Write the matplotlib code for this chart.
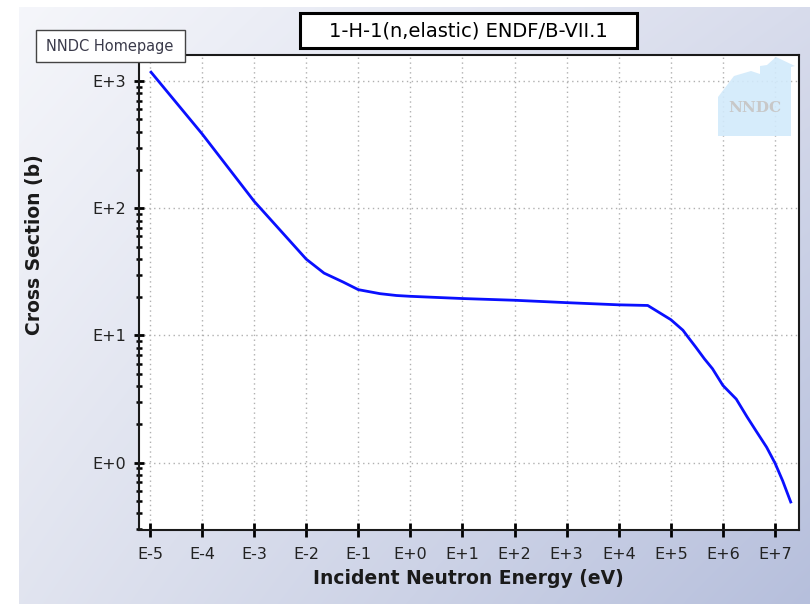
import numpy as np
import matplotlib
matplotlib.use('Agg')
import matplotlib.pyplot as plt
from matplotlib.ticker import LogLocator, FuncFormatter, NullFormatter
from matplotlib.patches import Rectangle, Polygon

# data (energy in eV, cross section in barns)
energy = [1.05e-5, 1e-4, 1e-3, 1e-2, 2.2e-2, 5.1e-2, 1e-1, 2.6e-1, 5.4e-1,
          1.0, 1e1, 1e2, 1e3, 1e4, 3.6e4, 1e5, 1.7e5, 2.1e5, 3.0e5, 4.4e5,
          6.3e5, 1e6, 1.8e6, 2.9e6, 4.3e6, 6.9e6, 1e7, 1.4e7, 2.0e7]
xs = [1175, 385, 113.5, 39.8, 30.9, 26.3, 22.9, 21.3, 20.6,
      20.3, 19.5, 18.9, 18.1, 17.4, 17.2, 13.3, 11.0, 9.8, 8.1, 6.55,
      5.47, 4.04, 3.16, 2.29, 1.78, 1.32, 0.99, 0.72, 0.49]

title = '1-H-1(n,elastic) ENDF/B-VII.1'
xlabel = 'Incident Neutron Energy (eV)'
ylabel = 'Cross Section (b)'

W, H = 810, 604
fig = plt.figure(figsize=(W / 100, H / 100), dpi=100)

def fx(px):
    return px / W

def fy(py):
    return 1 - py / H

# background gradient
bg = fig.add_axes([0, 0, 1, 1], zorder=-10)
bg.axis('off')
yy, xx = np.mgrid[0:H, 0:W]
u = xx / W
v = yy / H
c00 = np.array([246, 247, 251]) / 255
c10 = np.array([216, 220, 236]) / 255
c01 = np.array([226, 229, 240]) / 255
c11 = np.array([182, 191, 220]) / 255
img = (c00 * ((1 - u) * (1 - v))[..., None] + c10 * (u * (1 - v))[..., None]
       + c01 * ((1 - u) * v)[..., None] + c11 * (u * v)[..., None])
img[:, :19] = 1.0
img[:7, :] = 1.0
bg.imshow(img, extent=[0, 1, 0, 1], aspect='auto', interpolation='bilinear')
bg.set_xlim(0, 1)
bg.set_ylim(0, 1)

ax = fig.add_axes([fx(139), fy(530), (799 - 139) / W, (530 - 55) / H])
ax.set_zorder(1)
ax.set_facecolor('white')
ax.plot(energy, xs, color='#0a10ff', lw=2.0, zorder=3)
ax.set_xscale('log')
ax.set_yscale('log')
ax.set_xlim(10 ** -5.21, 10 ** 7.46)
ax.set_ylim(10 ** -0.53, 10 ** 3.205)

fmt = FuncFormatter(lambda val, pos: 'E%+d' % int(round(np.log10(val))))
ax.xaxis.set_major_locator(LogLocator(base=10, numticks=20))
ax.xaxis.set_major_formatter(fmt)
ax.xaxis.set_minor_locator(LogLocator(base=10, subs=(), numticks=20))
ax.yaxis.set_major_locator(LogLocator(base=10, numticks=20))
ax.yaxis.set_major_formatter(fmt)
ax.yaxis.set_minor_locator(LogLocator(base=10, subs=np.arange(2, 10), numticks=20))
ax.yaxis.set_minor_formatter(NullFormatter())

ax.tick_params(axis='x', which='major', direction='inout', length=10, width=2,
               pad=7, labelsize=11.5, colors='black', labelcolor='#222222')
ax.tick_params(axis='y', which='major', direction='inout', length=7, width=2,
               pad=6, labelsize=11.5, labelcolor='#222222')
ax.tick_params(axis='y', which='minor', direction='inout', length=5, width=1.8)

ax.grid(True, which='major', color='#b0b0b0', lw=1.0, linestyle=(0, (1, 2.5)))
for s in ax.spines.values():
    s.set_linewidth(1.5)
    s.set_color('#1a1a1a')

# NNDC logo (faint)
house = [(718, 136), (718, 97), (734, 76), (751, 71), (760, 74), (760, 66),
         (767, 65), (776, 57), (795, 66), (791, 67), (791, 136)]
fig.patches.append(Polygon([(fx(a), fy(b)) for a, b in house], closed=True,
                           transform=fig.transFigure, facecolor='#d2eafb',
                           edgecolor='none', alpha=0.9, zorder=5))
fig.text(fx(755), fy(108), 'NNDC', fontsize=11, family='DejaVu Serif',
         color='#c8c8c8', ha='center', va='center', weight='bold', zorder=6)

# title box
fig.patches.append(Rectangle((fx(300), fy(48)), (637 - 300) / W, (48 - 13) / H,
                             transform=fig.transFigure, facecolor='white',
                             edgecolor='black', lw=2.2, zorder=5))
fig.text(fx(468), fy(31), title, fontsize=14, ha='center', va='center',
         color='black', zorder=6)

# homepage box
fig.patches.append(Rectangle((fx(36), fy(62)), (185 - 36) / W, (62 - 30) / H,
                             transform=fig.transFigure, facecolor='white',
                             edgecolor='#444444', lw=1.0, zorder=5))
fig.text(fx(110), fy(46), 'NNDC Homepage', fontsize=10.5, ha='center',
         va='center', color='#3a3a4a', zorder=6)

fig.text(fx(468), fy(578), xlabel, fontsize=13.5, weight='bold',
         ha='center', va='center', color='#1a1a1a')
fig.text(fx(35), fy(245), ylabel, fontsize=13.5, weight='bold', rotation=90,
         ha='center', va='center', color='#1a1a1a')

fig.savefig('out.png', dpi=100)
